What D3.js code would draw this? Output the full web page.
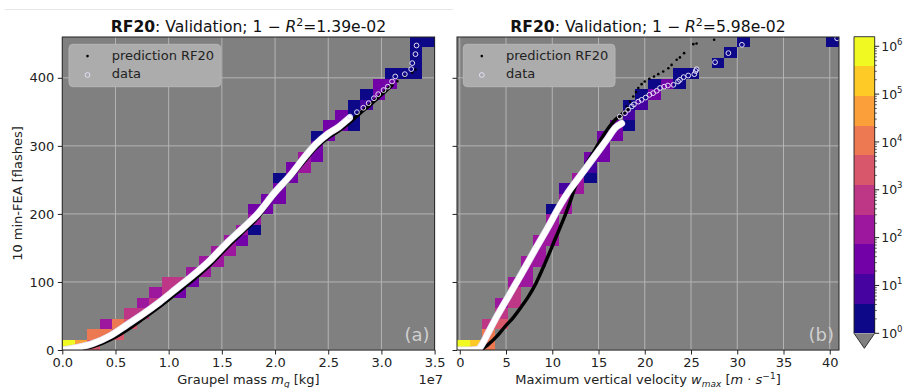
<!DOCTYPE html>
<html>
<head>
<meta charset="utf-8">
<script src="https://cdn.jsdelivr.net/npm/d3@7"></script>
<style>
  body { margin: 0; background: #fff; }
  svg { display: block; font-family: "DejaVu Sans", sans-serif; }
</style>
</head>
<body>
<svg id="chart" width="904" height="388"></svg>
<script>
// ---- values ----
var nBins = 30;
var yRange = [0, 460];
var yTicks = [0, 100, 200, 300, 400];

// (a) graupel mass, x in units of 1e7 kg
var massRange = [0, 3.5];
var massTicks = [0, 0.5, 1, 1.5, 2, 2.5, 3, 3.5];
// histogram cells: [x bin, y bin, count]
var massCells = [
  [0,0,750000],[1,0,42000],[2,0,2500],[2,1,10000],[3,1,10000],[3,2,140],
  [4,1,2500],[4,2,10000],[5,2,2500],[5,3,600],[6,3,600],[6,4,140],
  [7,4,600],[7,5,140],[8,5,600],[8,6,600],[9,5,35],[9,6,600],
  [10,6,35],[10,7,140],[11,7,140],[11,8,140],[12,8,140],[12,9,140],
  [13,9,140],[13,10,140],[14,10,35],[14,11,140],[15,11,2],[15,12,140],[15,13,35],
  [16,13,35],[16,14,35],[17,14,35],[17,15,35],[17,16,2],[18,16,35],[18,17,35],
  [19,17,140],[19,18,140],[20,18,35],[20,19,35],[20,20,2],[21,20,35],[21,21,35],
  [22,21,35],[22,22,35],[23,21,2],[23,22,2],[23,23,2],[24,23,8],[24,24,2],
  [25,24,35],[25,25,35],[26,25,35],[26,26,2],[27,26,2],
  [28,26,2],[28,27,2],[28,28,2],[28,29,2],[29,29,2]
];
var massDataX = [0, 0.15, 0.29, 0.45, 0.605, 0.76, 0.918, 1.07, 1.23, 1.39, 1.545, 1.69, 1.83, 2.0, 2.14, 2.27, 2.38, 2.5, 2.6, 2.7];
var massDataY = [0, 4, 9.8, 21, 36.8, 53, 71, 90, 110, 132, 157, 178, 199, 232, 256, 282, 302, 318, 328, 341];
var massDataPtsX = [2.705, 2.77, 2.83, 2.88, 2.93, 2.97, 3.02, 3.06, 3.10, 3.13, 3.22, 3.28, 3.29, 3.32, 3.33];
var massDataPtsY = [343, 349.5, 356, 362.8, 370, 376, 382, 387, 394.6, 402, 405.4, 412.8, 421.6, 434.8, 447.5];
var massPredX = [0, 0.15, 0.29, 0.45, 0.605, 0.76, 0.918, 1.07, 1.23, 1.39, 1.545, 1.69, 1.83, 2.0, 2.14, 2.27, 2.38, 2.5, 2.6, 2.7, 2.8, 2.9, 3.0, 3.1];
var massPredY = [0, 1.5, 5, 15, 29, 46, 64, 83, 103, 125, 150, 172, 193, 228, 252, 276, 296, 312, 322, 334, 348, 361, 375, 389];
var massPredPtsX = [3.15, 3.22, 3.29, 3.32];
var massPredPtsY = [395, 402, 408, 412];

// (b) maximum vertical velocity, m/s
var wRange = [-0.3, 41.0];
var wTicks = [0, 5, 10, 15, 20, 25, 30, 35, 40];
var wCells = [
  [0,0,750000],[1,0,180000],[2,0,10000],[2,1,10000],[2,2,600],
  [3,2,2500],[3,3,600],[3,4,140],[4,4,600],[4,5,600],[4,6,140],
  [5,6,140],[5,7,140],[5,8,140],[6,8,140],[6,9,140],[6,10,140],
  [7,10,140],[7,11,140],[7,12,140],[7,13,2],[8,13,140],[8,14,140],[8,15,8],
  [9,15,140],[9,16,140],[10,16,2],[10,17,8],[10,18,35],
  [11,18,35],[11,19,35],[11,20,35],[12,20,35],[12,21,35],
  [13,21,2],[13,22,8],[13,23,2],[14,23,8],[14,24,2],[15,24,35],[15,25,2],
  [16,25,35],[17,25,2],[17,26,2],[18,26,2],[20,27,2],[21,28,2],[22,29,2],[29,29,2]
];
var wDataX = [-0.3, 1.0, 2.0, 2.35, 3.06, 3.79, 4.5, 5.23, 6.68, 8.12, 9.56, 10.64, 11.72, 12.8, 13.89, 14.97, 16.05, 16.78, 17.5];
var wDataY = [0, 0, 1, 7, 25, 44, 61, 78, 112, 147, 181, 208, 232, 252, 272, 292, 312, 326, 333];
var wDataPtsX = [17.3, 17.86, 18.2, 18.6, 18.83, 19.3, 19.66, 20.1, 20.5, 20.9, 21.3, 21.65, 22.1, 22.5, 23.1, 23.6, 23.8, 24.2, 24.7, 25.36, 25.5, 25.6, 27.6, 29.04, 30.5, 40.8];
var wDataPtsY = [343, 348, 353, 358, 361, 365, 367.6, 371, 375, 377.5, 381, 385, 387, 388.7, 389.7, 394.6, 397, 401, 403.4, 405.4, 410, 412.7, 423, 436.3, 448.5, 458];
var wPredX = [-0.3, 1.0, 2.16, 3.06, 4.0, 4.87, 5.8, 6.68, 7.4, 8.12, 9.2, 10.28, 11.36, 12.09, 12.8, 13.53, 14.6, 15.33, 16.05, 16.78, 17.5, 18.2];
var wPredY = [0, 0, 0, 8, 20, 34, 48, 64, 78, 95, 127, 162, 197, 224, 252, 270, 294, 311, 326, 338, 346, 354];
var wPredPtsX = [18.04, 18.4, 18.76, 19.05, 19.3, 19.66, 20.0, 20.5, 21.0, 21.46, 22.0, 22.55, 22.9, 23.45, 23.8, 24.25, 25.25, 25.6, 27.5];
var wPredPtsY = [357.8, 365, 372.5, 379, 385, 390.7, 394.6, 398.5, 402, 405.4, 409.3, 414, 419, 426.5, 430, 436.3, 449.5, 450.5, 456];

// colour bar: 10 log-spaced bands
var cbBounds = [1, 4.17, 17.4, 72.4, 302, 1259, 5248, 21878, 91201, 380189, 1584893];
var cbTicks = [0, 1, 2, 3, 4, 5, 6];

// ---- drawing ----
var svg = d3.select('#chart');
var plotTop = 37, plotBottom = 350;
var ink = '#222';

var bandColors = d3.range(10).map(function(i) { return d3.interpolatePlasma(i / 9); });
var color = d3.scaleThreshold().domain(cbBounds.slice(1, -1)).range(bandColors);
var y = d3.scaleLinear().domain(yRange).range([plotBottom, plotTop]);

function pairs(xs, ys) {
  return xs.map(function(v, i) { return [v, ys[i]]; });
}

// faint rule at top of the image
svg.append('line').attr('x1', 5).attr('x2', 453).attr('y1', 9.5).attr('y2', 9.5)
  .attr('stroke', '#e6e6e6').attr('stroke-width', 1);

function drawPanel(o) {
  var x = d3.scaleLinear().domain(o.range).range([o.left, o.right]);
  var g = svg.append('g');
  var clipId = 'clip' + o.tag;

  g.append('clipPath').attr('id', clipId).append('rect')
    .attr('x', o.left).attr('y', plotTop).attr('width', o.right - o.left).attr('height', plotBottom - plotTop);

  g.append('rect').attr('x', o.left).attr('y', plotTop)
    .attr('width', o.right - o.left).attr('height', plotBottom - plotTop)
    .attr('fill', '#808080');

  // grid
  g.selectAll('.vgrid').data(o.ticks).enter().append('line')
    .attr('x1', function(d) { return x(d); }).attr('x2', function(d) { return x(d); })
    .attr('y1', plotTop).attr('y2', plotBottom)
    .attr('stroke', '#b4b4b4').attr('stroke-width', 1);
  g.selectAll('.hgrid').data(yTicks).enter().append('line')
    .attr('x1', o.left).attr('x2', o.right)
    .attr('y1', function(d) { return y(d); }).attr('y2', function(d) { return y(d); })
    .attr('stroke', '#b4b4b4').attr('stroke-width', 1);

  // 2d histogram
  var bw = (o.range[1] - o.range[0]) / nBins, bh = (yRange[1] - yRange[0]) / nBins;
  g.selectAll('.cell').data(o.cells).enter().append('rect')
    .attr('x', function(d) { return x(o.range[0] + d[0] * bw); })
    .attr('width', function(d) { return x(o.range[0] + (d[0] + 1) * bw) - x(o.range[0] + d[0] * bw); })
    .attr('y', function(d) { return y(yRange[0] + (d[1] + 1) * bh); })
    .attr('height', function(d) { return y(yRange[0] + d[1] * bh) - y(yRange[0] + (d[1] + 1) * bh); })
    .attr('fill', function(d) { return color(d[2]); })
    .attr('shape-rendering', 'crispEdges');

  var marks = g.append('g').attr('clip-path', 'url(#' + clipId + ')');
  var line = d3.line().x(function(d) { return x(d[0]); }).y(function(d) { return y(d[1]); })
    .curve(d3.curveMonotoneX);

  // prediction
  marks.append('path').datum(pairs(o.predX, o.predY)).attr('d', line)
    .attr('fill', 'none').attr('stroke', '#000').attr('stroke-width', 3.4).attr('stroke-linecap', 'round');
  marks.selectAll('.pdot').data(pairs(o.predPtsX, o.predPtsY)).enter().append('circle')
    .attr('cx', function(d) { return x(d[0]); }).attr('cy', function(d) { return y(d[1]); })
    .attr('r', 1.3).attr('fill', '#000');

  // data
  marks.append('path').datum(pairs(o.dataX, o.dataY)).attr('d', line)
    .attr('fill', 'none').attr('stroke', '#e2dcf2').attr('stroke-width', 7).attr('stroke-linecap', 'round');
  marks.append('path').datum(pairs(o.dataX, o.dataY)).attr('d', line)
    .attr('fill', 'none').attr('stroke', '#fff').attr('stroke-width', 5.6).attr('stroke-linecap', 'round');
  marks.selectAll('.ddot').data(pairs(o.dataPtsX, o.dataPtsY)).enter().append('circle')
    .attr('cx', function(d) { return x(d[0]); }).attr('cy', function(d) { return y(d[1]); })
    .attr('r', 2.4).attr('fill', 'none').attr('stroke', '#e4def5').attr('stroke-width', 1);

  // frame
  g.append('rect').attr('x', o.left).attr('y', plotTop)
    .attr('width', o.right - o.left).attr('height', plotBottom - plotTop)
    .attr('fill', 'none').attr('stroke', ink).attr('stroke-width', 1);

  // axes
  var xa = g.append('g').attr('transform', 'translate(0,' + plotBottom + ')')
    .call(d3.axisBottom(x).tickValues(o.ticks).tickFormat(o.fmt).tickSize(4.5).tickPadding(3.5));
  var ya = g.append('g').attr('transform', 'translate(' + o.left + ',0)')
    .call(d3.axisLeft(y).tickValues(yTicks).tickSize(4.5).tickPadding(3.5)
      .tickFormat(o.yLabels ? d3.format('d') : function() { return ''; }));
  [xa, ya].forEach(function(a) {
    a.select('.domain').remove();
    a.attr('font-family', null).attr('font-size', 13);
    a.selectAll('line').attr('stroke', ink);
    a.selectAll('text').attr('fill', ink);
  });

  // title
  var t = g.append('text').attr('x', (o.left + o.right) / 2).attr('y', 31.5)
    .attr('text-anchor', 'middle').attr('font-size', 15.6).attr('fill', '#111');
  t.append('tspan').attr('font-weight', 'bold').text('RF20');
  t.append('tspan').text(': Validation; 1 \u2212 ');
  t.append('tspan').attr('font-style', 'italic').text('R');
  t.append('tspan').attr('font-size', 11).attr('dy', -6).text('2');
  t.append('tspan').attr('dy', 6).text('=' + o.score);

  // legend
  var lg = g.append('g').attr('transform', 'translate(' + o.legendX + ',44.3)');
  lg.append('rect').attr('width', 151.7).attr('height', 42.4).attr('rx', 4)
    .attr('fill', '#acacac').attr('stroke', '#b6b6b6');
  lg.append('circle').attr('cx', 18.5).attr('cy', 11.8).attr('r', 1.3).attr('fill', '#000');
  lg.append('circle').attr('cx', 18.5).attr('cy', 30.7).attr('r', 2.4)
    .attr('fill', 'none').attr('stroke', '#e4def5').attr('stroke-width', 1);
  lg.append('text').attr('x', 42.7).attr('y', 15.5).attr('font-size', 13).attr('fill', ink).text('prediction RF20');
  lg.append('text').attr('x', 42.7).attr('y', 34).attr('font-size', 13).attr('fill', ink).text('data');

  // panel letter
  g.append('text').attr('x', o.right - 5).attr('y', 341).attr('text-anchor', 'end')
    .attr('font-size', 18).attr('fill', '#cfcfcf').text(o.letter);

  return g;
}

var ga = drawPanel({
  tag: 'a', left: 62.3, right: 434.6, range: massRange, ticks: massTicks,
  fmt: d3.format('.1f'), yLabels: true, score: '1.39e-02', letter: '(a)', legendX: 69,
  cells: massCells, dataX: massDataX, dataY: massDataY, dataPtsX: massDataPtsX, dataPtsY: massDataPtsY,
  predX: massPredX, predY: massPredY, predPtsX: massPredPtsX, predPtsY: massPredPtsY
});
var gb = drawPanel({
  tag: 'b', left: 457, right: 839, range: wRange, ticks: wTicks,
  fmt: d3.format('d'), yLabels: false, score: '5.98e-02', letter: '(b)', legendX: 463.3,
  cells: wCells, dataX: wDataX, dataY: wDataY, dataPtsX: wDataPtsX, dataPtsY: wDataPtsY,
  predX: wPredX, predY: wPredY, predPtsX: wPredPtsX, predPtsY: wPredPtsY
});

// axis labels
svg.append('text').attr('transform', 'translate(22,193.5) rotate(-90)')
  .attr('text-anchor', 'middle').attr('font-size', 13).attr('fill', ink).text('10 min-FEA [flashes]');

var xl = svg.append('text').attr('x', 248.5).attr('y', 384).attr('text-anchor', 'middle')
  .attr('font-size', 13).attr('fill', ink);
xl.append('tspan').text('Graupel mass ');
xl.append('tspan').attr('font-style', 'italic').text('m');
xl.append('tspan').attr('font-style', 'italic').attr('font-size', 9).attr('dy', 2.5).text('g');
xl.append('tspan').attr('dy', -2.5).text(' [kg]');

svg.append('text').attr('x', 443).attr('y', 384).attr('text-anchor', 'end')
  .attr('font-size', 13).attr('fill', ink).text('1e7');

var xr = svg.append('text').attr('x', 648).attr('y', 384).attr('text-anchor', 'middle')
  .attr('font-size', 13).attr('fill', ink);
xr.append('tspan').text('Maximum vertical velocity ');
xr.append('tspan').attr('font-style', 'italic').text('w');
xr.append('tspan').attr('font-style', 'italic').attr('font-size', 9).attr('dy', 2.5).text('max');
xr.append('tspan').attr('dy', -2.5).text(' [');
xr.append('tspan').attr('font-style', 'italic').text('m');
xr.append('tspan').text(' \u00b7 ');
xr.append('tspan').attr('font-style', 'italic').text('s');
xr.append('tspan').attr('font-size', 9).attr('dy', -5).text('\u22121');
xr.append('tspan').attr('dy', 5).text(']');

// colour bar
var cbX = 854, cbW = 20.7, cbTop = 36.7, cbBottom = 333.3;
var cb = svg.append('g');
var cbScale = d3.scaleLog().domain([cbBounds[0], cbBounds[cbBounds.length - 1]]).range([cbBottom, cbTop]);
cb.selectAll('.band').data(d3.range(10)).enter().append('rect')
  .attr('x', cbX).attr('width', cbW)
  .attr('y', function(i) { return cbScale(cbBounds[i + 1]); })
  .attr('height', function(i) { return cbScale(cbBounds[i]) - cbScale(cbBounds[i + 1]); })
  .attr('fill', function(i) { return bandColors[i]; })
  .attr('shape-rendering', 'crispEdges');
cb.append('path')
  .attr('d', 'M' + cbX + ',' + cbBottom + 'L' + (cbX + cbW / 2) + ',' + (cbBottom + 15) + 'L' + (cbX + cbW) + ',' + cbBottom + 'Z')
  .attr('fill', '#808080');
cb.append('path')
  .attr('d', 'M' + cbX + ',' + cbBottom + 'L' + cbX + ',' + cbTop + 'L' + (cbX + cbW) + ',' + cbTop +
    'L' + (cbX + cbW) + ',' + cbBottom + 'L' + (cbX + cbW / 2) + ',' + (cbBottom + 15) + 'Z')
  .attr('fill', 'none').attr('stroke', ink).attr('stroke-width', 0.9);

var minor = [];
cbTicks.forEach(function(k) {
  for (var m = 2; m < 10; m++) {
    var v = m * Math.pow(10, k);
    if (v < cbBounds[cbBounds.length - 1]) minor.push(v);
  }
});
cb.selectAll('.minor').data(minor).enter().append('line')
  .attr('x1', cbX + cbW).attr('x2', cbX + cbW + 2.2)
  .attr('y1', function(v) { return cbScale(v); }).attr('y2', function(v) { return cbScale(v); })
  .attr('stroke', ink).attr('stroke-width', 0.7);
cb.selectAll('.major').data(cbTicks).enter().append('line')
  .attr('x1', cbX + cbW).attr('x2', cbX + cbW + 4.5)
  .attr('y1', function(k) { return cbScale(Math.pow(10, k)); })
  .attr('y2', function(k) { return cbScale(Math.pow(10, k)); })
  .attr('stroke', ink).attr('stroke-width', 1);
var cbl = cb.selectAll('.lab').data(cbTicks).enter().append('text')
  .attr('x', cbX + cbW + 6.5)
  .attr('y', function(k) { return cbScale(Math.pow(10, k)) + 4.7; })
  .attr('font-size', 12.5).attr('fill', ink);
cbl.append('tspan').text('10');
cbl.append('tspan').attr('font-size', 8.5).attr('dy', -6).text(function(k) { return k; });
</script>
</body>
</html>
